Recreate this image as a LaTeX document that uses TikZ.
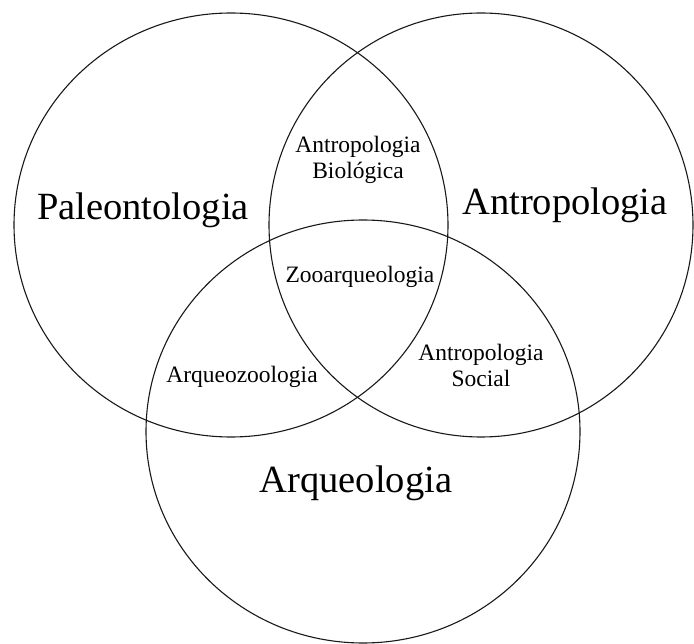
\documentclass[tikz,border=0pt]{standalone}
\usepackage{fontspec}
\setmainfont{Liberation Serif}
\begin{document}
\begin{tikzpicture}[x=1pt,y=-1pt]
\tikzset{
	campo/.style={draw=black!90, line width=1.1pt},
	grande/.style={anchor=base, font=\fontsize{38.5}{44}\selectfont, inner sep=0pt},
	pequeno/.style={anchor=base, font=\fontsize{23.5}{27}\selectfont, inner sep=0pt, align=center}
}
\useasboundingbox (0,0) rectangle (694,644);
%% Circles
\draw[campo] (231,225) ellipse [x radius=217, y radius=212];
\draw[campo] (481,225) ellipse [x radius=212, y radius=212];
\draw[campo] (363,431.5) ellipse [x radius=217, y radius=211.5];
%% Main fields
\node[grande] (paleo) at (143,220) {Paleontologia};
\node[grande] (antro) at (565,215) {Antropologia};
\node[grande] (arqueo) at (356,492) {Arqueologia};
%% Intersections
\node[pequeno] (biol) at (358,153) {Antropologia};
\node[pequeno] (biol2) at (358,179) {Biológica};
\node[pequeno] (zoo) at (360,283) {Zooarqueologia};
\node[pequeno] (arqzoo) at (242,383) {Arqueozoologia};
\node[pequeno] (soc) at (481,361) {Antropologia};
\node[pequeno] (soc2) at (481,387) {Social};
\end{tikzpicture}
\end{document}
